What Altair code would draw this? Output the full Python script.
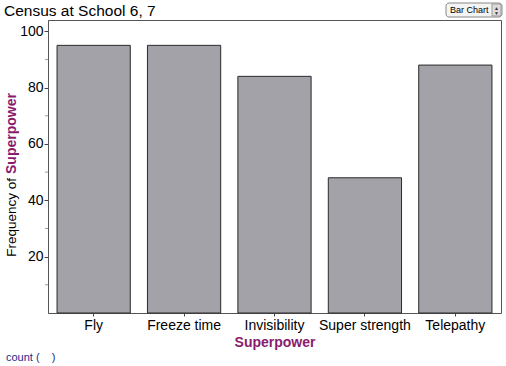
import altair as alt
import pandas as pd

# Superpower preference counts
powers = ["Fly", "Freeze time", "Invisibility", "Super strength", "Telepathy"]
counts = [95, 95, 84, 48, 88]
major_ticks = [20, 40, 60, 80, 100]
minor_ticks = [10, 30, 50, 70, 90]

PURPLE = "#8a1a6e"
FONT = "Liberation Sans"
W, H = 453, 293

df = pd.DataFrame({"Superpower": powers, "count": counts})

x = alt.X(
    "Superpower:N",
    sort=powers,
    scale=alt.Scale(paddingInner=0.19, paddingOuter=0.1),
    axis=alt.Axis(
        title="Superpower", titleColor=PURPLE, titleFont=FONT, titleFontSize=14,
        titleFontWeight="bold", titlePadding=3,
        labelAngle=0, labelFont=FONT, labelFontSize=14, labelColor="#000",
        labelPadding=2, tickSize=3, tickColor="#444", domain=False,
    ),
)
y = alt.Y(
    "count:Q",
    scale=alt.Scale(domain=[0, 104], nice=False),
    axis=alt.Axis(
        title=None, values=major_ticks, labelFont=FONT, labelFontSize=14,
        labelColor="#000", tickSize=4, tickColor="#444",
        labelPadding=1, domainColor="#555", grid=False,
    ),
)

bars = alt.Chart(df).mark_bar(
    color="#a3a2a8", stroke="#2b2b2b", strokeWidth=1
).encode(x=x, y=y)

minor = alt.Chart(pd.DataFrame({"v": minor_ticks})).mark_rule(
    color="#999", strokeWidth=1
).encode(
    x=alt.value(-3), x2=alt.value(0),
    y=alt.Y("v:Q", scale=alt.Scale(domain=[0, 104], nice=False)),
)

def label(text, px, py, **kw):
    return alt.Chart(pd.DataFrame({"t": [text]})).mark_text(
        font=FONT, clip=False, **kw
    ).encode(text="t:N", x=alt.value(px), y=alt.value(py))

ytitle_a = label("Frequency of", -36, 158, angle=270, align="right",
                 baseline="middle", fontSize=13.5, color="#000")
ytitle_b = label("Superpower", -36, 154, angle=270, align="left",
                 baseline="middle", fontSize=14, fontWeight="bold", color=PURPLE)
heading = label("Census at School 6, 7", -44, -9, align="left",
                baseline="middle", fontSize=15.5, color="#000")
footer = label("count (\u00a0\u00a0\u00a0\u00a0)", -42, 338, align="left",
               baseline="middle", fontSize=11, color="#1c2a8c")

# dropdown selector in the top-right corner
box = alt.Chart(pd.DataFrame({"a": [0]})).mark_rect(
    fill="#f4f4f4", stroke="#888", cornerRadius=3, clip=False
).encode(x=alt.value(398), x2=alt.value(454), y=alt.value(-17), y2=alt.value(-3))
sel_text = label("Bar Chart", 402, -10, align="left", baseline="middle",
                 fontSize=9, color="#000")
arrow_box = alt.Chart(pd.DataFrame({"a": [0]})).mark_rect(
    fill="#dcdcdc", stroke="#999", clip=False
).encode(x=alt.value(444), x2=alt.value(453), y=alt.value(-16), y2=alt.value(-4))
arr_up = label("▲", 448.5, -12.5, align="center", baseline="middle",
               fontSize=5, color="#333")
arr_dn = label("▼", 448.5, -7.5, align="center", baseline="middle",
               fontSize=5, color="#333")

chart = alt.layer(
    bars, minor, ytitle_a, ytitle_b, heading, footer,
    box, sel_text, arrow_box, arr_up, arr_dn,
).properties(
    width=W, height=H,
    autosize=alt.AutoSizeParams(type="none"),
    padding={"left": 48, "top": 20, "right": 5, "bottom": 53},
    background="white",
).configure_view(
    stroke="#555", strokeWidth=1
)

chart.save("out.html", embed_options={"renderer": "svg", "actions": False})
